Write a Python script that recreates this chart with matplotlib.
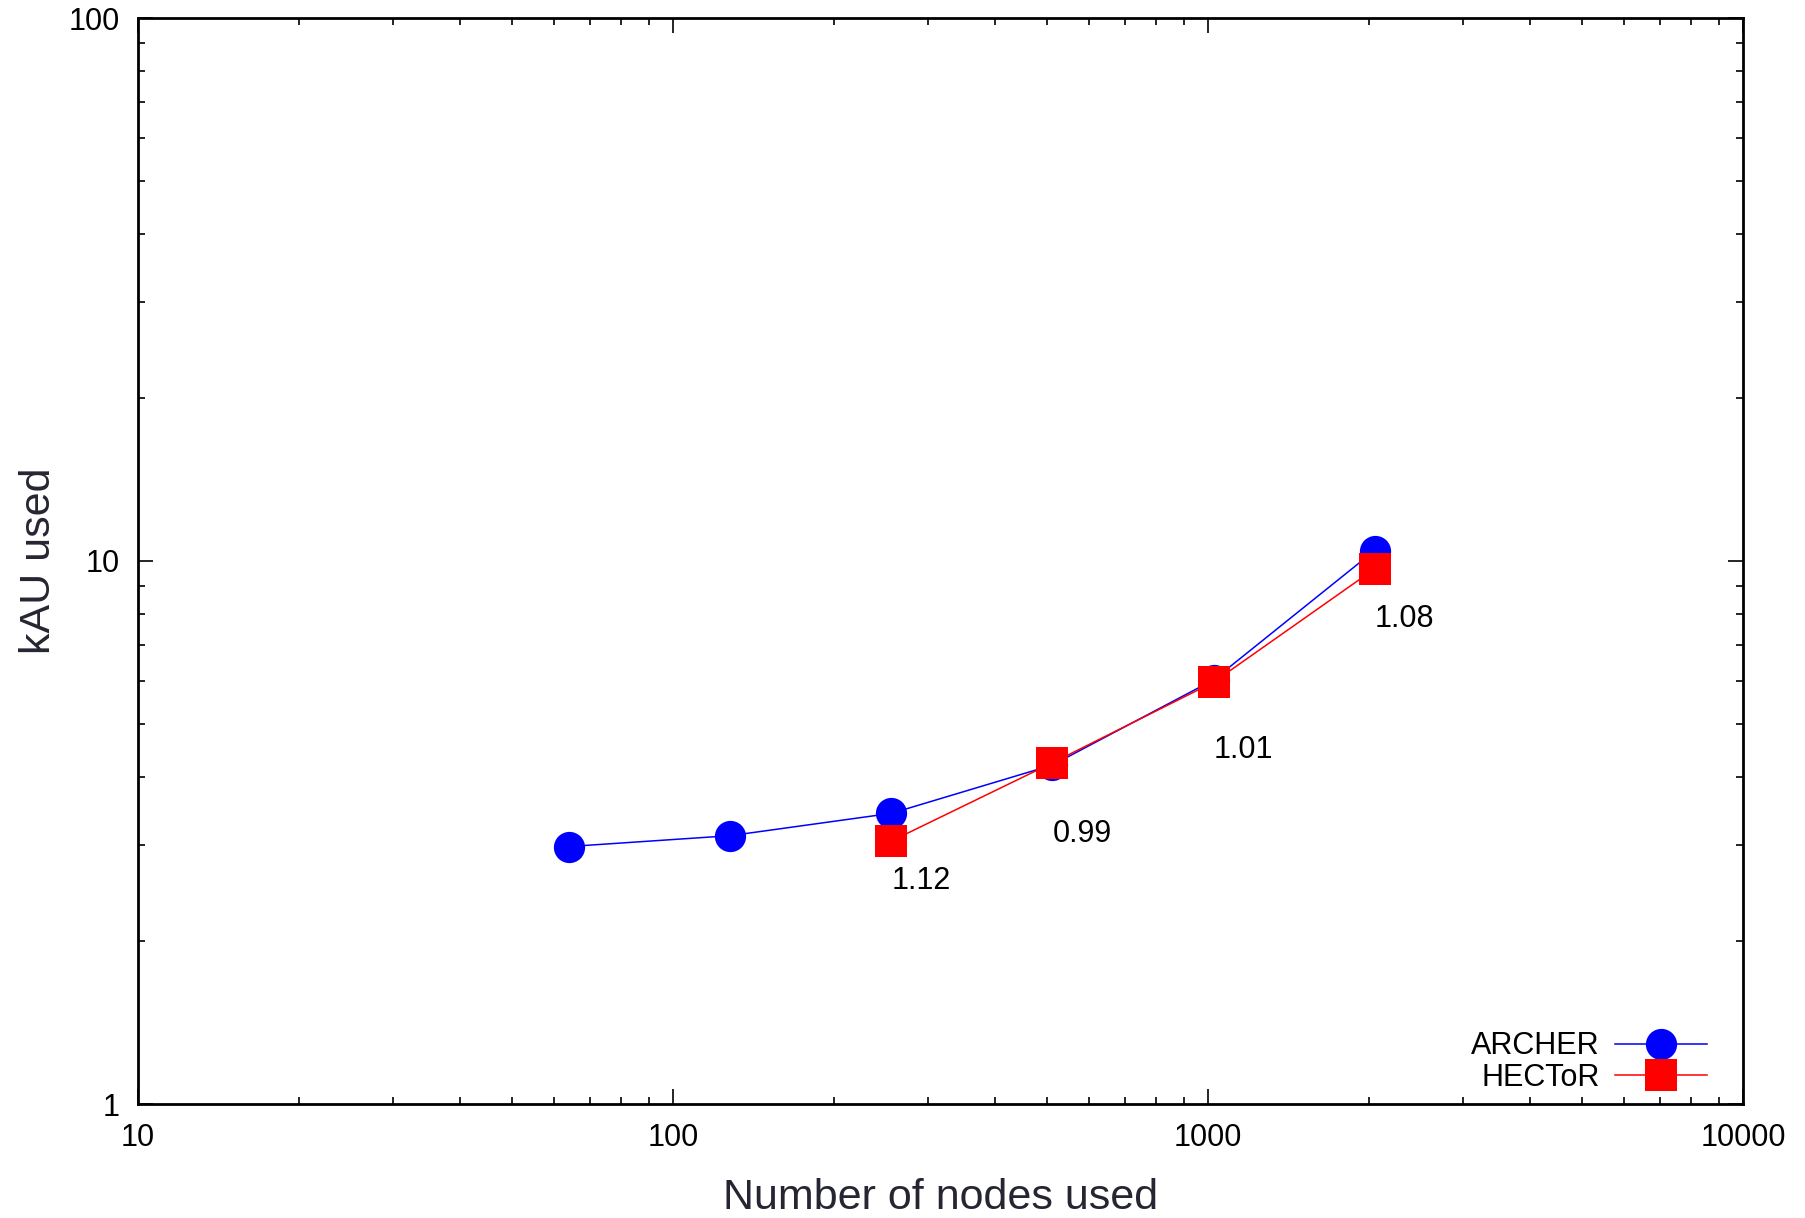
import matplotlib
matplotlib.use("Agg")
from matplotlib import pyplot as plt
from matplotlib.ticker import LogLocator, NullFormatter, FixedLocator, FixedFormatter

plt.rcParams['font.family'] = ['Liberation Sans', 'DejaVu Sans']

# node counts and kAU used per machine
archer_nodes = [64, 128, 256, 512, 1024, 2048]
archer_kau = [2.98, 3.12, 3.43, 4.21, 6.04, 10.45]

hector_nodes = [256, 512, 1024, 2048]
hector_kau = [3.05, 4.25, 5.98, 9.67]

# ARCHER / HECToR ratio at each shared node count
ratio_labels = ["1.12", "0.99", "1.01", "1.08"]

x_ticks = [10, 100, 1000, 10000]
x_ticklabels = ["10", "100", "1000", "10000"]
y_ticks = [1, 10, 100]
y_ticklabels = ["1", "10", "100"]

# how far below each HECToR point the ratio text sits (pixels)
label_drop = [40, 71, 68, 50]

fig = plt.figure(figsize=(18.06, 12.18), dpi=100)
ax = fig.add_axes([138 / 1806, 1 - 1104 / 1218, (1743 - 138) / 1806, (1104 - 18) / 1218])

ax.plot(archer_nodes, archer_kau, color='#0000ff', lw=1.1, marker='o',
        markersize=22.5, markeredgewidth=0, label='ARCHER', zorder=3)
ax.plot(hector_nodes, hector_kau, color='#ff0000', lw=1.1, marker='s',
        markersize=23, markeredgewidth=0, label='HECToR', zorder=4)

for xv, yv, txt, d in zip(hector_nodes, hector_kau, ratio_labels, label_drop):
    ax.annotate(txt, (xv, yv), xytext=(0, -d), textcoords='offset pixels',
                ha='left', va='center', fontsize=22, color='black')

ax.set_xscale('log')
ax.set_yscale('log')
ax.set_xlim(10, 10000)
ax.set_ylim(1, 100)

ax.xaxis.set_major_locator(FixedLocator(x_ticks))
ax.xaxis.set_major_formatter(FixedFormatter(x_ticklabels))
ax.yaxis.set_major_locator(FixedLocator(y_ticks))
ax.yaxis.set_major_formatter(FixedFormatter(y_ticklabels))
ax.xaxis.set_minor_locator(LogLocator(base=10, subs=range(2, 10)))
ax.yaxis.set_minor_locator(LogLocator(base=10, subs=range(2, 10)))
ax.xaxis.set_minor_formatter(NullFormatter())
ax.yaxis.set_minor_formatter(NullFormatter())

ax.tick_params(which='both', direction='in', top=True, right=True, width=1.2)
ax.tick_params(which='major', length=10.5, labelsize=22)
ax.tick_params(axis='x', which='major', pad=14)
ax.tick_params(axis='y', which='major', pad=13)
ax.tick_params(which='minor', length=5)

for s in ax.spines.values():
    s.set_linewidth(2)

label_color = '#262633'
ax.set_xlabel("Number of nodes used", fontsize=31, color=label_color, labelpad=18)
ax.set_ylabel("kAU used", fontsize=31, color=label_color, labelpad=7)

leg = ax.legend(loc='lower right', bbox_to_anchor=(0.985, -0.001), frameon=False,
                fontsize=22, markerfirst=False, handlelength=3.0, handletextpad=0.5,
                labelspacing=0.05, borderaxespad=0, numpoints=1)

fig.savefig("out.png", dpi=100)
